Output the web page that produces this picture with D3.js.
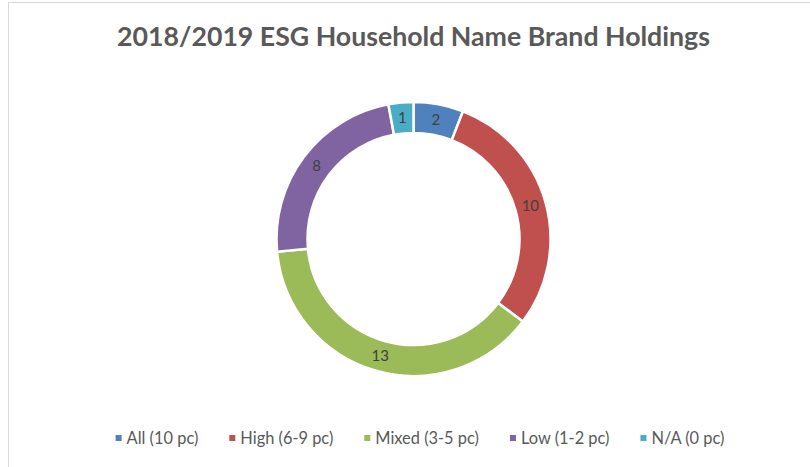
<!DOCTYPE html>
<html lang="en">
<head>
  <meta charset="utf-8">
  <title>2018/2019 ESG Household Name Brand Holdings</title>
  <style>
    body { margin: 0; background: #fff; }
    svg { display: block; font-family: Lato, "Open Sans", sans-serif; }
  </style>
  <script src="https://d3js.org/d3.v7.min.js"></script>
</head>
<body>
<script>
  // chart data
  let categories = ['All (10 pc)', 'High (6-9 pc)', 'Mixed (3-5 pc)', 'Low (1-2 pc)', 'N/A (0 pc)']
  let values = [2, 10, 13, 8, 1]
  let colors = ['#4F81BD', '#C0504D', '#9BBB59', '#8064A2', '#4BACC6']
  let title = '2018/2019 ESG Household Name Brand Holdings'

  let width = 810
  let height = 467
  let cx = 413.5
  let cy = 239
  let outerR = 137
  let innerR = 106

  let svg = d3.select('body').append('svg')
              .attr('width', width)
              .attr('height', height)

  // chart frame
  svg.append('rect')
     .attr('x', 8.5).attr('y', 2.5)
     .attr('width', width + 10).attr('height', height + 10)
     .attr('fill', '#fff')
     .attr('stroke', '#d9d9d9')

  svg.append('text')
     .attr('x', 413.5).attr('y', 46)
     .attr('text-anchor', 'middle')
     .attr('font-size', 26.7)
     .attr('font-weight', 'bold')
     .attr('fill', '#595959')
     .text(title)

  let pie = d3.pie().sort(null).value(d => d)
  let arc = d3.arc().innerRadius(innerR).outerRadius(outerR)
  let labelArc = d3.arc().innerRadius((innerR + outerR) / 2).outerRadius((innerR + outerR) / 2)

  let g = svg.append('g').attr('transform', `translate(${cx},${cy})`)
  let slices = pie(values)

  g.selectAll('path')
   .data(slices)
   .enter()
   .append('path')
   .attr('d', arc)
   .attr('fill', (d, i) => colors[i])
   .attr('stroke', '#fff')
   .attr('stroke-width', 2.5)

  g.selectAll('.lbl')
   .data(slices)
   .enter()
   .append('text')
   .attr('class', 'lbl')
   .attr('transform', d => `translate(${labelArc.centroid(d)})`)
   .attr('text-anchor', 'middle')
   .attr('dy', '0.35em')
   .attr('font-size', 15)
   .attr('fill', '#404040')
   .text(d => d.data)

  // legend, centred below the ring
  let legend = svg.append('g')
  let items = legend.selectAll('g')
                    .data(categories)
                    .enter()
                    .append('g')
  items.append('rect')
       .attr('width', 6).attr('height', 6)
       .attr('y', -3)
       .attr('fill', (d, i) => colors[i])
  items.append('text')
       .attr('x', 11)
       .attr('dy', '0.35em')
       .attr('font-size', 16.4)
       .attr('fill', '#595959')
       .text(d => d)

  let gap = 31
  let pos = 0
  items.each(function () {
    let w = 11 + d3.select(this).select('text').node().getComputedTextLength()
    d3.select(this).attr('transform', `translate(${pos},0)`)
    pos += w + gap
  })
  let total = pos - gap
  legend.attr('transform', `translate(${420 - total / 2},438)`)
</script>
</body>
</html>
